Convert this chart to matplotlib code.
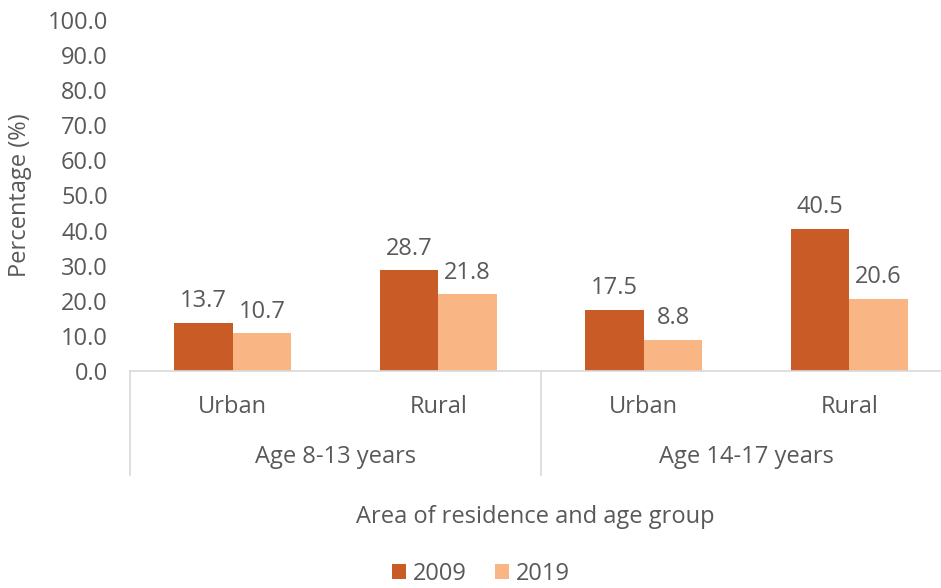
import numpy as np
import matplotlib.pyplot as plt

plt.rcParams['font.family'] = ['Open Sans', 'DejaVu Sans']

areas = ['Urban', 'Rural', 'Urban', 'Rural']
age_groups = ['Age 8-13 years', 'Age 14-17 years']
v2009 = [13.7, 28.7, 17.5, 40.5]
v2019 = [10.7, 21.8, 8.8, 20.6]
years = ['2009', '2019']

c2009 = '#C95B27'
c2019 = '#F9B584'
grey = '#595959'
line = '#D9D9D9'
fs = 17

fig = plt.figure(figsize=(9.41, 5.88), dpi=100)
W, H = 941, 588
ax = fig.add_axes([130 / W, 1 - 371 / H, 822 / W, 351 / H])

x = np.arange(len(areas))
w = 0.285
b1 = ax.bar(x - w / 2, v2009, w, color=c2009, label=years[0])
b2 = ax.bar(x + w / 2, v2019, w, color=c2019, label=years[1])

for bars, vals in ((b1, v2009), (b2, v2019)):
    for b, v in zip(bars, vals):
        ax.annotate(f'{v:.1f}', (b.get_x() + b.get_width() / 2, v),
                    xytext=(0, 7), textcoords='offset points',
                    ha='center', va='bottom', fontsize=fs, color=grey)

ax.set_xlim(-0.5, 3.5)
ax.set_ylim(0, 100)
ax.set_yticks(np.arange(0, 101, 10))
ax.set_yticklabels([f'{t:.1f}' for t in np.arange(0, 101, 10)])
ax.tick_params(axis='y', length=0, pad=16, labelsize=fs, labelcolor=grey)
ax.set_xticks(x)
ax.set_xticklabels(areas)
ax.tick_params(axis='x', length=0, pad=17, labelsize=fs, labelcolor=grey)

for s in ['top', 'right', 'left']:
    ax.spines[s].set_visible(False)
ax.spines['bottom'].set_color(line)
ax.spines['bottom'].set_linewidth(1.2)

# group separators and labels
tr = ax.get_xaxis_transform()
for xs in [-0.5, 1.5, 3.5]:
    ax.plot([xs, xs], [0, -104 / 351], transform=tr, color=line, lw=1.2, clip_on=False)
for i, g in enumerate(age_groups):
    ax.text(0.5 + 2 * i, -86 / 351, g, transform=tr, ha='center', va='center',
            fontsize=fs, color=grey)

fig.text(535 / W, 1 - 517 / H, 'Area of residence and age group', ha='center', va='center',
         fontsize=fs, color=grey)
fig.text(20 / W, 1 - 195 / H, 'Percentage (%)', rotation=90, ha='center', va='center',
         fontsize=fs, color=grey)

leg = fig.legend(loc='center', bbox_to_anchor=(481 / W, 1 - 574 / H), ncol=2, frameon=False,
                 fontsize=fs, handlelength=0.6, handleheight=0.6, handletextpad=0.3,
                 columnspacing=1.2)
for t in leg.get_texts():
    t.set_color(grey)

fig.savefig('out.png', dpi=100)
